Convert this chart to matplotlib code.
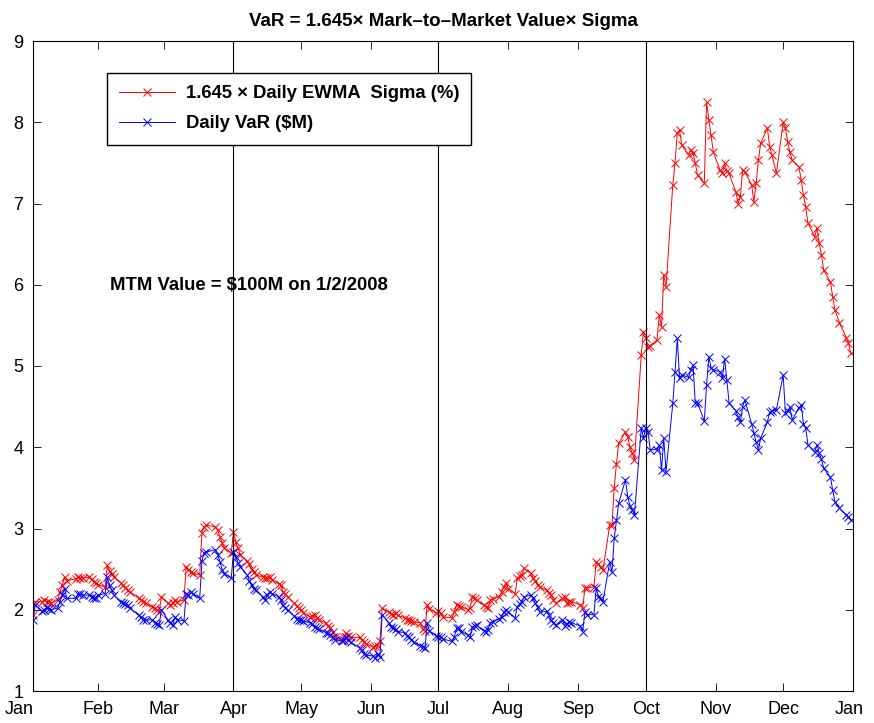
import matplotlib
matplotlib.use("Agg")
import matplotlib.pyplot as plt
import matplotlib.transforms as mtransforms
import pandas as pd
import datetime as dt

plt.rcParams['font.family'] = ['Liberation Sans', 'DejaVu Sans']

# ---- trading days 2008 (first return on Jan 3) ----
holidays = ['2008-01-21', '2008-02-18', '2008-03-21', '2008-05-26',
            '2008-07-04', '2008-09-01', '2008-11-27', '2008-12-25']
dates = pd.bdate_range('2008-01-03', '2008-12-31')
dates = dates[~dates.isin(pd.to_datetime(holidays))]

# ---- 1.645 x daily EWMA sigma (%) by month ----
sigma_jan = [1.93, 2.10, 2.10, 2.12, 2.10, 2.10, 2.08, 2.12, 2.22, 2.30, 2.40, 2.36, 2.38, 2.40, 2.39, 2.39, 2.40, 2.38, 2.34, 2.33]
sigma_feb = [2.31, 2.28, 2.55, 2.48, 2.44, 2.40, 2.33, 2.30, 2.27, 2.24, 2.22, 2.14, 2.12, 2.10, 2.08, 2.04, 2.02, 2.00, 1.97, 2.16]
sigma_mar = [2.08, 2.06, 2.08, 2.12, 2.10, 2.12, 2.53, 2.49, 2.46, 2.45, 2.43, 2.95, 3.02, 3.04, 3.02, 2.98, 2.90, 2.82, 2.76, 2.70]
sigma_apr = [2.96, 2.84, 2.76, 2.68, 2.60, 2.56, 2.50, 2.46, 2.43, 2.40, 2.39, 2.39, 2.40, 2.37, 2.32, 2.30, 2.22, 2.19, 2.16, 2.08, 2.05, 2.02]
sigma_may = [2.00, 1.96, 1.91, 1.92, 1.93, 1.90, 1.87, 1.84, 1.80, 1.78, 1.73, 1.67, 1.63, 1.66, 1.71, 1.68, 1.66, 1.66, 1.63, 1.60, 1.58]
sigma_jun = [1.54, 1.55, 1.56, 1.62, 2.02, 1.97, 1.95, 1.94, 1.96, 1.93, 1.90, 1.88, 1.87, 1.86, 1.85, 1.84, 1.76, 1.74, 2.06, 2.01, 1.96]
sigma_jul = [1.98, 1.96, 1.91, 1.90, 1.97, 2.06, 2.05, 2.04, 2.00, 2.02, 2.16, 2.14, 2.12, 2.06, 2.04, 2.02, 2.12, 2.13, 2.16, 2.22, 2.28, 2.33]
sigma_aug = [2.26, 2.20, 2.39, 2.41, 2.43, 2.51, 2.45, 2.39, 2.36, 2.30, 2.28, 2.24, 2.21, 2.18, 2.12, 2.08, 2.14, 2.16, 2.08, 2.10, 2.10]
sigma_sep = [2.06, 2.02, 2.27, 2.27, 2.28, 2.59, 2.56, 2.53, 2.49, 3.04, 3.04, 3.50, 3.80, 4.05, 4.19, 4.13, 4.00, 3.93, 3.84, 5.14, 5.42]
sigma_oct = [5.35, 5.23, 5.25, 5.32, 5.63, 5.48, 6.12, 5.97, 7.23, 7.50, 7.87, 7.90, 7.72, 7.60, 7.66, 7.62, 7.50, 7.35, 7.25, 8.25, 8.03, 7.84, 7.63]
sigma_nov = [7.41, 7.37, 7.50, 7.40, 7.37, 7.14, 7.00, 7.08, 7.41, 7.39, 7.23, 7.02, 7.25, 7.53, 7.74, 7.93, 7.70, 7.60, 7.37]
sigma_dec = [8.00, 7.93, 7.76, 7.63, 7.53, 7.45, 7.29, 7.10, 6.96, 6.76, 6.59, 6.70, 6.51, 6.37, 6.18, 6.03, 5.85, 5.69, 5.53, 5.35, 5.28, 5.16]

# ---- daily VaR ($M) by month ----
var_jan = [1.87, 2.06, 1.98, 2.00, 2.02, 2.01, 2.00, 2.02, 2.10, 2.18, 2.26, 2.14, 2.14, 2.20, 2.19, 2.18, 2.18, 2.16, 2.15, 2.14]
var_feb = [2.18, 2.20, 2.40, 2.30, 2.24, 2.18, 2.09, 2.08, 2.07, 2.06, 2.02, 1.93, 1.91, 1.88, 1.87, 1.88, 1.84, 1.82, 1.81, 2.00]
var_mar = [1.87, 1.84, 1.81, 1.91, 1.88, 1.86, 2.20, 2.18, 2.22, 2.20, 2.14, 2.60, 2.70, 2.71, 2.74, 2.68, 2.59, 2.49, 2.44, 2.39]
var_apr = [2.71, 2.65, 2.58, 2.53, 2.43, 2.36, 2.30, 2.26, 2.24, 2.16, 2.12, 2.18, 2.22, 2.20, 2.16, 2.12, 2.06, 2.02, 2.00, 1.92, 1.89, 1.87]
var_may = [1.87, 1.86, 1.84, 1.82, 1.79, 1.78, 1.76, 1.72, 1.71, 1.69, 1.66, 1.63, 1.62, 1.63, 1.66, 1.63, 1.60, 1.53, 1.50, 1.46, 1.44]
var_jun = [1.43, 1.41, 1.46, 1.42, 1.94, 1.84, 1.79, 1.78, 1.76, 1.73, 1.72, 1.68, 1.66, 1.63, 1.60, 1.56, 1.54, 1.53, 1.84, 1.74, 1.68]
var_jul = [1.67, 1.66, 1.64, 1.61, 1.66, 1.77, 1.78, 1.73, 1.69, 1.66, 1.79, 1.80, 1.81, 1.74, 1.73, 1.75, 1.84, 1.85, 1.89, 1.91, 1.97, 2.00]
var_aug = [1.97, 1.90, 2.04, 2.07, 2.10, 2.16, 2.18, 2.14, 2.08, 2.03, 1.97, 1.98, 1.94, 1.88, 1.84, 1.81, 1.88, 1.80, 1.83, 1.85, 1.84]
var_sep = [1.80, 1.73, 1.97, 1.94, 1.94, 2.27, 2.16, 2.14, 2.10, 2.59, 2.46, 2.88, 3.10, 3.31, 3.60, 3.39, 3.28, 3.23, 3.17, 4.24, 4.11]
var_oct = [4.24, 4.19, 3.97, 3.97, 4.03, 3.72, 4.11, 3.70, 4.54, 4.93, 5.34, 4.85, 4.89, 4.86, 4.95, 5.01, 4.54, 4.55, 4.32, 4.77, 5.11, 4.98, 4.95]
var_nov = [4.93, 4.85, 5.09, 4.83, 4.54, 4.45, 4.37, 4.31, 4.50, 4.58, 4.29, 4.18, 4.06, 3.97, 4.11, 4.31, 4.43, 4.44, 4.46]
var_dec = [4.89, 4.42, 4.45, 4.49, 4.34, 4.48, 4.52, 4.29, 4.24, 4.03, 3.94, 4.03, 3.93, 3.85, 3.74, 3.63, 3.47, 3.33, 3.25, 3.17, 3.14, 3.11]

sigma = (sigma_jan + sigma_feb + sigma_mar + sigma_apr + sigma_may + sigma_jun +
         sigma_jul + sigma_aug + sigma_sep + sigma_oct + sigma_nov + sigma_dec)
var = (var_jan + var_feb + var_mar + var_apr + var_may + var_jun +
       var_jul + var_aug + var_sep + var_oct + var_nov + var_dec)

month_labels = ['Jan', 'Feb', 'Mar', 'Apr', 'May', 'Jun', 'Jul', 'Aug',
                'Sep', 'Oct', 'Nov', 'Dec', 'Jan']
quarter_lines = ['2008-04-01', '2008-07-01', '2008-10-01']
y_ticks = [1, 2, 3, 4, 5, 6, 7, 8, 9]

legend_labels = ['1.645 \u00d7 Daily EWMA  Sigma (%)', 'Daily VaR ($M)']
title_text = 'VaR = 1.645\u00d7 Mark\u2013to\u2013Market Value\u00d7 Sigma'
note_text = 'MTM Value = $100M on 1/2/2008'

W, H = 874, 723
fig = plt.figure(figsize=(W / 100, H / 100), dpi=100)
ax = fig.add_axes([33 / W, 1 - 691 / H, 820 / W, 650 / H])

ax.plot(dates, sigma, '-x', color=(1, 0, 0), lw=0.7, ms=6, mew=0.7, label=legend_labels[0])
ax.plot(dates, var, '-x', color=(0, 0, 1), lw=0.7, ms=6, mew=0.7, label=legend_labels[1])

for q in quarter_lines:
    ax.axvline(pd.Timestamp(q), color='k', lw=0.8)

ax.set_xlim(dt.datetime(2008, 1, 3), dt.datetime(2009, 1, 1))
ax.set_ylim(1, 9)
xt = [dt.datetime(2008, 1, 3)] + [dt.datetime(2008, m, 1) for m in range(2, 13)] + [dt.datetime(2009, 1, 1)]
ax.set_xticks(xt)
ax.set_xticklabels(month_labels)
ax.set_yticks(y_ticks)
ax.set_yticklabels([str(v) for v in y_ticks])
ax.tick_params(direction='in', top=True, right=True, length=5.9, width=0.6,
               labelsize=13, colors='k')
ax.tick_params(axis='x', pad=7)
ax.tick_params(axis='y', pad=7)
for s in ax.spines.values():
    s.set_linewidth(0.8)
    s.set_color('k')

# edge month labels sit slightly left of the axis ends, as in the reference
xlabels = ax.get_xticklabels()
xlabels[0].set_transform(xlabels[0].get_transform() +
                         mtransforms.ScaledTranslation(-14 / 100, 0, fig.dpi_scale_trans))
xlabels[-1].set_transform(xlabels[-1].get_transform() +
                          mtransforms.ScaledTranslation(-4 / 100, 0, fig.dpi_scale_trans))

ax.set_title(title_text, fontsize=13.5, fontweight='bold', pad=11)

leg = ax.legend(loc='upper left', bbox_to_anchor=((107 - 33) / 820, (691 - 73) / 650),
                borderaxespad=0, frameon=True, fancybox=False, edgecolor='k',
                framealpha=1, handlelength=3.0, handletextpad=0.6,
                labelspacing=0.72, borderpad=0.66, numpoints=1,
                prop={'weight': 'bold', 'size': 13.3})
leg.get_frame().set_linewidth(1.0)

ax.text((110 - 33) / 820, (691 - 285) / 650, note_text, transform=ax.transAxes,
        fontsize=13.3, fontweight='bold', ha='left', va='center')

fig.savefig('out.png', dpi=100)
